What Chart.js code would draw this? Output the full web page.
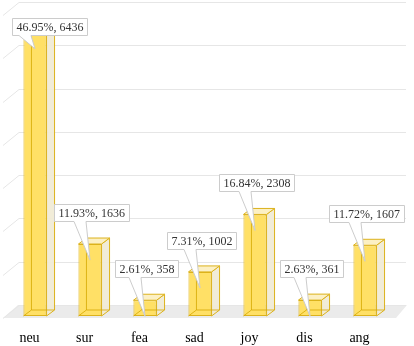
<!DOCTYPE html>
<html>
<head>
<meta charset="utf-8">
<script src="https://cdn.jsdelivr.net/npm/chart.js@4.4.0/dist/chart.umd.min.js"></script>
<style>
  html, body { margin: 0; padding: 0; background: #fff; }
</style>
</head>
<body>
<canvas id="myChart" width="414" height="346"></canvas>
<script>
let labels = ['neu', 'sur', 'fea', 'sad', 'joy', 'dis', 'ang'];
let counts = [6436, 1636, 358, 1002, 2308, 361, 1607];
let yTicks = [0, 1000, 2000, 3000, 4000, 5000, 6000, 7000];

let total = counts.reduce((a, b) => a + b, 0);
let depthX = 8;
let depthY = -6;
let serif = '"Liberation Serif", "Times New Roman", Times, serif';

// back wall of the box sits a bit higher than the front of the bars
function backY(yFront, area) {
    return 305 - (area.bottom - yFront) * (303 / 308);
}

let floorAndGrid = {
    id: 'floorAndGrid',
    beforeDatasetsDraw(chart) {
        let ctx = chart.ctx;
        let area = chart.chartArea;
        let y = chart.scales.y;
        ctx.save();
        // floor
        ctx.fillStyle = '#ebebeb';
        ctx.beginPath();
        ctx.moveTo(3, 318);
        ctx.lineTo(18, 305);
        ctx.lineTo(407, 305);
        ctx.lineTo(396, 318);
        ctx.closePath();
        ctx.fill();
        // grid
        ctx.strokeStyle = '#e6e6e6';
        ctx.lineWidth = 1;
        for (let i = 0; i < yTicks.length; i++) {
            let yb = Math.round(backY(y.getPixelForValue(yTicks[i]), area)) + 0.5;
            ctx.beginPath();
            ctx.moveTo(3, yb + 13);
            ctx.lineTo(19, yb);
            ctx.lineTo(406, yb);
            ctx.stroke();
        }
        ctx.restore();
    }
};

function drawCallout(ctx, text, tipX, tipY, boxCx, boxBottom) {
    ctx.font = '12px ' + serif;
    let w = Math.round(ctx.measureText(text).width + 8);
    let h = 17;
    let x = Math.round(boxCx - w / 2);
    if (x < 12) x = 12;
    if (x + w > 410) x = 410 - w;
    let y = Math.round(boxBottom - h);
    if (y < 18) y = 18;
    x += 0.5; y += 0.5;
    let b1 = Math.max(tipX - 16, x + 2);
    let b2 = Math.min(Math.max(tipX - 4, b1 + 6), x + w - 2);
    ctx.beginPath();
    ctx.moveTo(x, y);
    ctx.lineTo(x + w, y);
    ctx.lineTo(x + w, y + h);
    ctx.lineTo(b2, y + h);
    ctx.lineTo(tipX, tipY);
    ctx.lineTo(b1, y + h);
    ctx.lineTo(x, y + h);
    ctx.closePath();
    ctx.fillStyle = '#ffffff';
    ctx.fill();
    ctx.strokeStyle = '#cccccc';
    ctx.lineWidth = 1;
    ctx.stroke();
    ctx.fillStyle = '#333333';
    ctx.textBaseline = 'middle';
    ctx.textAlign = 'left';
    ctx.fillText(text, x + 4, y + h / 2 + 1);
}

let bars3d = {
    id: 'bars3d',
    afterDatasetsDraw(chart) {
        let ctx = chart.ctx;
        let meta = chart.getDatasetMeta(0);
        ctx.save();
        ctx.lineWidth = 1;
        meta.data.forEach(function (bar) {
            let p = bar.getProps(['x', 'y', 'base', 'width'], true);
            let l = p.x - p.width / 2, r = p.x + p.width / 2, t = p.y, b = p.base;
            // side
            ctx.fillStyle = 'rgba(240, 235, 214, 0.95)';
            ctx.strokeStyle = '#dcb21c';
            ctx.beginPath();
            ctx.moveTo(r, t);
            ctx.lineTo(r + depthX, t + depthY);
            ctx.lineTo(r + depthX, b + depthY);
            ctx.lineTo(r, b);
            ctx.closePath();
            ctx.fill();
            ctx.stroke();
            // top
            ctx.fillStyle = 'rgba(252, 240, 196, 1)';
            ctx.beginPath();
            ctx.moveTo(l, t);
            ctx.lineTo(l + depthX, t + depthY);
            ctx.lineTo(r + depthX, t + depthY);
            ctx.lineTo(r, t);
            ctx.closePath();
            ctx.fill();
            ctx.stroke();
            // back edges seen through the front
            ctx.strokeStyle = 'rgba(214, 168, 0, 0.8)';
            ctx.beginPath();
            ctx.moveTo(l + depthX, t + depthY);
            ctx.lineTo(l + depthX, b + depthY);
            ctx.lineTo(r + depthX, b + depthY);
            ctx.moveTo(l, b);
            ctx.lineTo(l + depthX, b + depthY);
            ctx.stroke();
        });
        meta.data.forEach(function (bar, i) {
            let p = bar.getProps(['x', 'y'], true);
            let text = (counts[i] / total * 100).toFixed(2) + '%, ' + counts[i];
            drawCallout(ctx, text, p.x, p.y + 16, p.x + 1, p.y - 23);
        });
        ctx.restore();
    }
};

let ctx = document.getElementById('myChart').getContext('2d');
let chart = new Chart(ctx, {
    type: 'bar',
    data: {
        labels: labels,
        datasets: [{
            data: counts,
            backgroundColor: 'rgb(255, 224, 102)',
            borderColor: '#dcb21c',
            borderWidth: 1,
            borderSkipped: false,
            barPercentage: 0.42,
            categoryPercentage: 1.0
        }]
    },
    options: {
        responsive: false,
        animation: false,
        layout: { padding: { left: 7.5, right: 21.5, top: 8, bottom: 0 } },
        plugins: { legend: { display: false }, tooltip: { enabled: false } },
        scales: {
            x: {
                grid: { display: false, drawTicks: false },
                border: { display: false },
                afterFit: function (scale) { scale.height = 30; },
                ticks: {
                    padding: 14,
                    labelOffset: -5.5,
                    color: '#000000',
                    font: { family: serif, size: 14 }
                }
            },
            y: {
                display: false,
                min: 0,
                max: 7000
            }
        }
    },
    plugins: [floorAndGrid, bars3d]
});
</script>
</body>
</html>
